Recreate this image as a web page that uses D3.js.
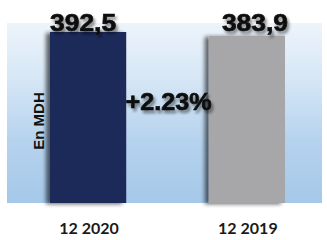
<!DOCTYPE html>
<html>
<head>
<meta charset="utf-8">
<script src="https://cdn.jsdelivr.net/npm/d3@7"></script>
<style>
  html, body { margin: 0; padding: 0; background: #fff; }
  svg { display: block; }
</style>
</head>
<body>
<svg id="chart"></svg>
<script>
// data
const categories = ['12 2020', '12 2019'];
const values = [392.5, 383.9];
const valueLabels = ['392,5', '383,9'];
const changeLabel = '+2.23%';
const unitLabel = 'En MDH';

const BAR_COLORS = ['#1f2c5a', '#a7a7aa'];

const width = 327, height = 240;
const panel = { x: 7, y: 23, w: 315, h: 180 };

const svg = d3.select('#chart')
  .attr('width', width)
  .attr('height', height);

const defs = svg.append('defs');

const grad = defs.append('linearGradient')
  .attr('id', 'bg')
  .attr('x1', 0).attr('y1', 0).attr('x2', 0).attr('y2', 1);
[['0%', '#edf4fb'], ['30%', '#d7e7f6'], ['65%', '#b6d3ee'], ['100%', '#a5c8e9']]
  .forEach(([o, c]) => grad.append('stop').attr('offset', o).attr('stop-color', c));

// text shadow
const ts = defs.append('filter').attr('id', 'tshadow')
  .attr('x', '-20%').attr('y', '-30%').attr('width', '140%').attr('height', '180%');
ts.append('feGaussianBlur').attr('in', 'SourceAlpha').attr('stdDeviation', 1.6).attr('result', 'b');
ts.append('feOffset').attr('in', 'b').attr('dx', 2).attr('dy', 3).attr('result', 'o');
ts.append('feComponentTransfer').attr('in', 'o').attr('result', 's')
  .append('feFuncA').attr('type', 'linear').attr('slope', 0.45);
const tm = ts.append('feMerge');
tm.append('feMergeNode').attr('in', 's');
tm.append('feMergeNode').attr('in', 'SourceGraphic');

// bar shadow (falls to the left)
const bs = defs.append('filter').attr('id', 'bshadow')
  .attr('x', '-20%').attr('y', '-5%').attr('width', '130%').attr('height', '110%');
bs.append('feGaussianBlur').attr('in', 'SourceAlpha').attr('stdDeviation', 2).attr('result', 'b');
bs.append('feOffset').attr('in', 'b').attr('dx', -4).attr('dy', 1).attr('result', 'o');
bs.append('feComponentTransfer').attr('in', 'o').attr('result', 's')
  .append('feFuncA').attr('type', 'linear').attr('slope', 0.6);
const bm = bs.append('feMerge');
bm.append('feMergeNode').attr('in', 's');
bm.append('feMergeNode').attr('in', 'SourceGraphic');

// background panel
svg.append('rect')
  .attr('x', panel.x).attr('y', panel.y)
  .attr('width', panel.w).attr('height', panel.h)
  .attr('fill', 'url(#bg)');

// scales
const x = d3.scaleBand()
  .domain(categories)
  .range([50, 285])
  .paddingInner(0.52)
  .paddingOuter(0);

const y = d3.scaleLinear()
  .domain([0, d3.max(values)])
  .range([panel.y + panel.h, 32]);

// bars
svg.append('g').selectAll('rect')
  .data(values)
  .join('rect')
  .attr('x', (d, i) => x(categories[i]))
  .attr('y', d => y(d))
  .attr('width', x.bandwidth())
  .attr('height', d => y(0) - y(d))
  .attr('fill', (d, i) => BAR_COLORS[i])
  .attr('filter', 'url(#bshadow)');

// value labels
const labelDx = [-5, 8];
svg.append('g').selectAll('text')
  .data(values)
  .join('text')
  .attr('x', (d, i) => x(categories[i]) + x.bandwidth() / 2 + labelDx[i])
  .attr('y', 31)
  .attr('text-anchor', 'middle')
  .attr('font-family', 'Liberation Sans, Arial, sans-serif')
  .attr('font-weight', 'bold')
  .attr('font-size', 24)
  .attr('textLength', 66)
  .attr('lengthAdjust', 'spacingAndGlyphs')
  .attr('fill', '#111')
  .attr('stroke', '#111')
  .attr('stroke-width', 0.7)
  .attr('filter', 'url(#tshadow)')
  .text((d, i) => valueLabels[i]);

// change label between bars
svg.append('text')
  .attr('x', 168.5)
  .attr('y', 110)
  .attr('text-anchor', 'middle')
  .attr('font-family', 'Liberation Sans, Arial, sans-serif')
  .attr('font-weight', 'bold')
  .attr('font-size', 24)
  .attr('textLength', 86)
  .attr('lengthAdjust', 'spacingAndGlyphs')
  .attr('fill', '#111')
  .attr('stroke', '#111')
  .attr('stroke-width', 0.7)
  .attr('filter', 'url(#tshadow)')
  .text(changeLabel);

// unit label
svg.append('text')
  .attr('transform', 'translate(44, 121) rotate(-90)')
  .attr('text-anchor', 'middle')
  .attr('font-family', 'Liberation Sans, Arial, sans-serif')
  .attr('font-weight', 'bold')
  .attr('font-size', 15)
  .attr('fill', '#111')
  .text(unitLabel);

// category labels
svg.append('g').selectAll('text')
  .data(categories)
  .join('text')
  .attr('x', d => x(d) + x.bandwidth() / 2 + 1)
  .attr('y', 234)
  .attr('text-anchor', 'middle')
  .attr('font-family', 'Lato, Open Sans, sans-serif')
  .attr('font-weight', 'bold')
  .attr('font-size', 16)
  .attr('fill', '#1a1a1a')
  .text(d => d);
</script>
</body>
</html>
